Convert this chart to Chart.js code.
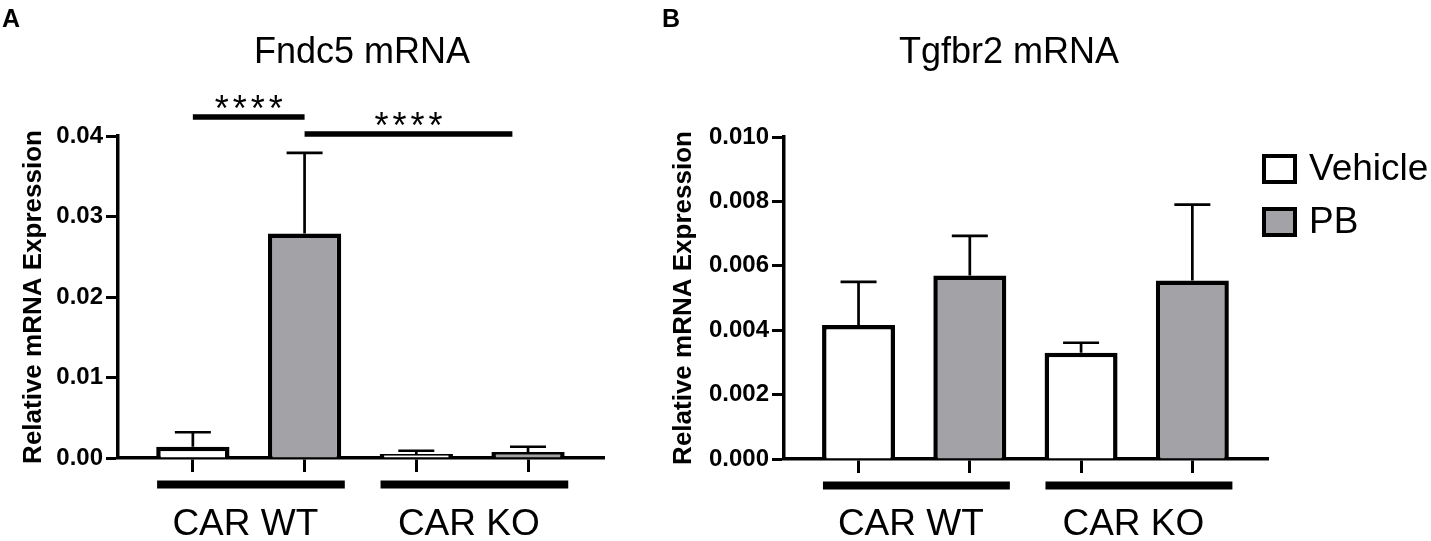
<!DOCTYPE html>
<html>
<head>
<meta charset="utf-8">
<title>Fndc5 / Tgfbr2 mRNA</title>
<script src="https://cdn.jsdelivr.net/npm/chart.js@4.4.1/dist/chart.umd.min.js"></script>
<style>
  html, body { margin: 0; padding: 0; background: #fff; }
  #wrap { position: relative; width: 1431px; height: 541px; overflow: hidden; }
  #fndc5 { position: absolute; left: 0; top: 0; }
  #tgfbr2 { position: absolute; left: 660px; top: 0; }
</style>
</head>
<body>
<div id="wrap">
  <canvas id="fndc5" width="660" height="541"></canvas>
  <canvas id="tgfbr2" width="771" height="541"></canvas>
</div>
<script>
// groups and bar slots (WT-Vehicle, WT-PB, KO-Vehicle, KO-PB)
const groups = ['CAR WT', 'CAR KO'];
const vehicleX = [0, 2];
const pbX = [1, 3];

// panel A - Fndc5 (mean and SEM)
const fndc5Vehicle = [0.0014, 0.0005];
const fndc5VehicleSem = [0.0018, 0.0004];
const fndc5PB = [0.0279, 0.00075];
const fndc5PBSem = [0.0100, 0.00065];
const fndc5Ticks = ['0.00', '0.01', '0.02', '0.03', '0.04'];
const fndc5SigFrom = [0, 1];
const fndc5SigTo = [1, 2.86];
const fndc5SigText = ['****', '****'];

// panel B - Tgfbr2 (mean and SEM)
const tgfbr2Vehicle = [0.00416, 0.0033];
const tgfbr2VehicleSem = [0.00134, 0.00031];
const tgfbr2PB = [0.0057, 0.00554];
const tgfbr2PBSem = [0.00123, 0.00236];
const tgfbr2Ticks = ['0.000', '0.002', '0.004', '0.006', '0.008', '0.010'];

const FONT = "'Liberation Sans', Arial, sans-serif";
const GREY = '#a3a3a7';
Chart.defaults.font.family = FONT;
Chart.defaults.color = '#000';

// upward-only error bars with a cap
const errorBars = {
    id: 'errorBars',
    afterDatasetsDraw(chart) {
        const { ctx, scales: { x, y } } = chart;
        ctx.save();
        ctx.strokeStyle = '#000';
        ctx.lineWidth = 2.7;
        chart.data.datasets.forEach(ds => {
            ds.data.forEach((p, i) => {
                const px = x.getPixelForValue(p.x);
                const yb = y.getPixelForValue(p.y);
                const yt = y.getPixelForValue(p.y + ds.sem[i]);
                ctx.beginPath();
                ctx.moveTo(px, yb);
                ctx.lineTo(px, yt);
                ctx.moveTo(px - 18, yt);
                ctx.lineTo(px + 18, yt);
                ctx.stroke();
            });
        });
        ctx.restore();
    }
};

// letter, title, group bars under the axis, significance, legend
function decor(c) {
    return {
        id: 'decor',
        afterDraw(chart) {
            const { ctx, chartArea: a, scales: { x } } = chart;
            ctx.save();
            ctx.fillStyle = '#000';
            ctx.strokeStyle = '#000';
            ctx.textBaseline = 'alphabetic';

            ctx.font = 'bold 25px ' + FONT;
            ctx.textAlign = 'left';
            ctx.fillText(c.letter, 2, 27);

            ctx.font = '36px ' + FONT;
            ctx.textAlign = 'center';
            ctx.fillText(c.title, (a.left + a.right) / 2 + c.titleShift, 63);

            groups.forEach((g, gi) => {
                const lo = Math.min(vehicleX[gi], pbX[gi]);
                const hi = Math.max(vehicleX[gi], pbX[gi]);
                ctx.lineWidth = 8;
                ctx.beginPath();
                ctx.moveTo(x.getPixelForValue(lo - 0.32), a.bottom + 26.5);
                ctx.lineTo(x.getPixelForValue(hi + 0.36), a.bottom + 26.5);
                ctx.stroke();
                ctx.font = '37px ' + FONT;
                ctx.fillText(g, x.getPixelForValue((lo + hi) / 2 - 0.03), 535);
            });

            if (c.sigFrom) {
                c.sigFrom.forEach((f, i) => {
                    const yLine = a.top - 19 + 17 * i;
                    const x1 = x.getPixelForValue(f);
                    const x2 = x.getPixelForValue(c.sigTo[i]);
                    ctx.lineWidth = 5.5;
                    ctx.beginPath();
                    ctx.moveTo(x1, yLine);
                    ctx.lineTo(x2, yLine);
                    ctx.stroke();
                    ctx.font = '36px ' + FONT;
                    ctx.letterSpacing = '4px';
                    ctx.fillText(c.sigText[i], (x1 + x2) / 2 + 2, yLine + 4);
                    ctx.letterSpacing = '0px';
                });
            }

            if (c.legend) {
                chart.data.datasets.forEach((ds, i) => {
                    const bx = a.right - 4, by = 156 + 53 * i;
                    ctx.fillStyle = ds.backgroundColor;
                    ctx.fillRect(bx, by, 31, 26);
                    ctx.lineWidth = 4;
                    ctx.strokeRect(bx, by, 31, 26);
                    ctx.fillStyle = '#000';
                    ctx.font = '37px ' + FONT;
                    ctx.textAlign = 'left';
                    ctx.textBaseline = 'middle';
                    ctx.fillText(ds.label, bx + 45, by + 14);
                    ctx.textBaseline = 'alphabetic';
                });
            }
            ctx.restore();
        }
    };
}

function makeChart(id, c) {
    return new Chart(document.getElementById(id), {
        type: 'bar',
        data: {
            datasets: [
                {
                    label: 'Vehicle',
                    data: vehicleX.map((x, i) => ({ x: x, y: c.vehicle[i] })),
                    sem: c.vehicleSem,
                    backgroundColor: '#ffffff'
                },
                {
                    label: 'PB',
                    data: pbX.map((x, i) => ({ x: x, y: c.pb[i] })),
                    sem: c.pbSem,
                    backgroundColor: GREY
                }
            ]
        },
        options: {
            responsive: false,
            animation: false,
            layout: { padding: c.padding },
            datasets: {
                bar: {
                    grouped: false,
                    categoryPercentage: 1,
                    barPercentage: 0.656,
                    borderColor: '#000',
                    borderWidth: 4.5
                }
            },
            plugins: {
                legend: { display: false },
                tooltip: { enabled: false }
            },
            scales: {
                x: {
                    type: 'linear',
                    offset: false,
                    min: -0.67,
                    max: 3.68,
                    afterFit: s => { s.height = 20; },
                    afterBuildTicks: s => { s.ticks = [0, 1, 2, 3].map(v => ({ value: v })); },
                    grid: { offset: false, drawOnChartArea: false, tickLength: 14, tickWidth: 3, tickColor: '#000' },
                    border: { color: '#000', width: 3.5 },
                    ticks: { callback: () => '' }
                },
                y: {
                    min: 0,
                    max: c.max,
                    afterFit: s => { s.width = c.axisWidth; },
                    grid: { drawOnChartArea: false, tickLength: 12, tickWidth: 3, tickColor: '#000' },
                    border: { color: '#000', width: 3.5 },
                    ticks: {
                        stepSize: c.step,
                        padding: 3,
                        color: '#000',
                        font: { size: 24, weight: 'bold' },
                        callback: (v, i) => c.ticks[i] ?? v.toFixed(c.dec)
                    },
                    title: {
                        display: true,
                        text: 'Relative mRNA Expression',
                        color: '#000',
                        font: { size: 26, weight: 'bold' },
                        padding: { top: c.titlePad, bottom: 0 }
                    }
                }
            }
        },
        plugins: [errorBars, decor(c)]
    });
}

makeChart('fndc5', {
    letter: 'A',
    title: 'Fndc5 mRNA', titleShift: 1,
    vehicle: fndc5Vehicle, vehicleSem: fndc5VehicleSem,
    pb: fndc5PB, pbSem: fndc5PBSem,
    ticks: fndc5Ticks, max: 0.04, step: 0.01, dec: 2,
    sigFrom: fndc5SigFrom, sigTo: fndc5SigTo, sigText: fndc5SigText,
    padding: { left: 0, top: 136, right: 56, bottom: 63 },
    axisWidth: 118, titlePad: 18, legend: false
});

makeChart('tgfbr2', {
    letter: 'B',
    title: 'Tgfbr2 mRNA', titleShift: -17,
    vehicle: tgfbr2Vehicle, vehicleSem: tgfbr2VehicleSem,
    pb: tgfbr2PB, pbSem: tgfbr2PBSem,
    ticks: tgfbr2Ticks, max: 0.01, step: 0.002, dec: 3,
    padding: { left: 0, top: 137, right: 163, bottom: 62 },
    axisWidth: 124, titlePad: 8, legend: true
});
</script>
</body>
</html>
